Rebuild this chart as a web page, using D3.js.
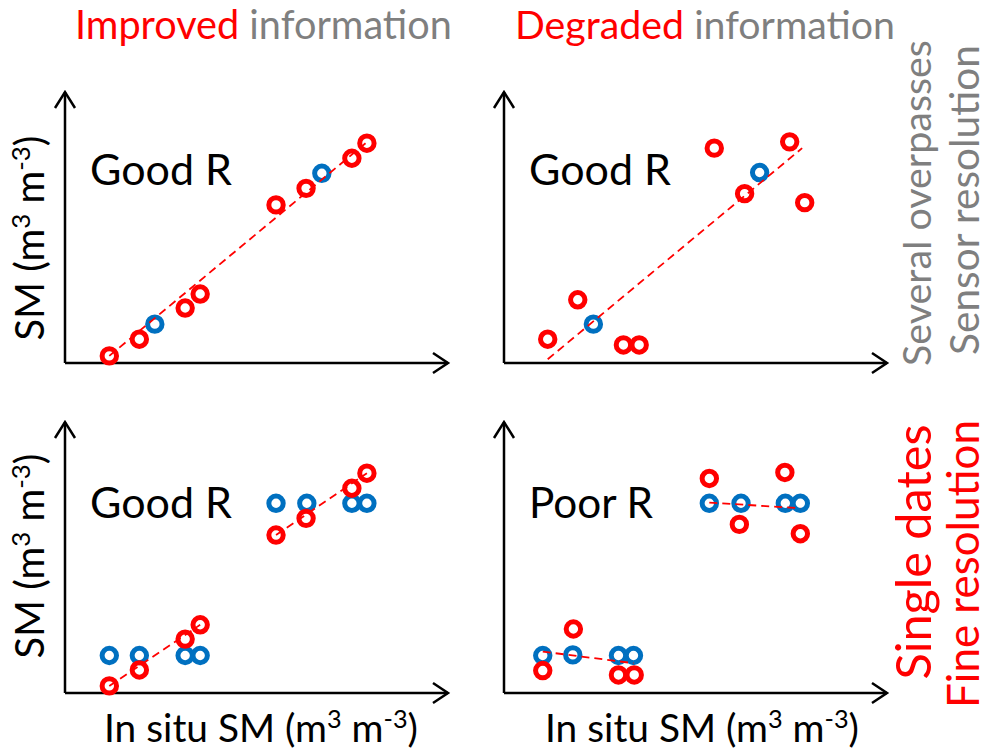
<!DOCTYPE html>
<html>
<head>
<meta charset="utf-8">
<script src="https://cdn.jsdelivr.net/npm/d3@7"></script>
<style>
  html, body { margin: 0; padding: 0; background: #fff; }
  svg { display: block; font-family: Lato, "Open Sans", sans-serif; }
</style>
</head>
<body>
<svg id="chart" width="990" height="752"></svg>
<script>
// ---------------- DATA ----------------
const columnTitles = [
  { strong: "Improved", rest: " information" },
  { strong: "Degraded", rest: " information" }
];
const rowLabels = [
  ["Several overpasses", "Sensor resolution"],
  ["Single dates", "Fine resolution"]
];
const panelRLabels = ["Good R", "Good R", "Good R", "Poor R"];
const xAxisLabel = ["In situ SM (m", "3", " m", "-3", ")"];
const yAxisLabel = ["SM (m", "3", " m", "-3", ")"];

// Top-left: improved information, several overpasses / sensor resolution
const improvedSensorRed  = [[2.95,0.47],[4.95,1.58],[8,3.65],[9,4.58],[14.05,10.5],[16.05,11.6],[19.1,13.6],[20.1,14.6]];
const improvedSensorBlue = [[5.98,2.58],[17.1,12.6]];
const improvedSensorFit  = [[[2.95,0.47],[20.1,14.67]]];

// Top-right: degraded information, several overpasses / sensor resolution
const degradedSensorRed  = [[2.91,1.58],[4.91,4.2],[7.95,1.2],[9,1.2],[14,14.27],[16.02,11.25],[19.02,14.69],[20.02,10.65]];
const degradedSensorBlue = [[5.95,2.58],[17.02,12.65]];
const degradedSensorFit  = [[[2.91,0.25],[19.85,14.27]]];

// Bottom-left: improved information, single dates / fine resolution
const improvedFineRed  = [[2.95,0.47],[4.95,1.53],[8,3.58],[9,4.53],[14.05,10.49],[16.05,11.6],[19.1,13.6],[20.1,14.6]];
const improvedFineBlue = [[2.95,2.49],[4.95,2.49],[8,2.49],[9,2.49],[14.05,12.6],[16.1,12.6],[19.1,12.6],[20.1,12.6]];
const improvedFineFit  = [[[2.95,0.47],[9,4.53]],[[14.05,10.49],[20.1,14.6]]];

// Bottom-right: degraded information, single dates / fine resolution
const degradedFineRed  = [[2.58,1.49],[4.62,4.25],[7.62,1.2],[8.67,1.2],[13.67,14.25],[15.67,11.2],[18.7,14.65],[19.73,10.58]];
const degradedFineBlue = [[2.58,2.49],[4.58,2.53],[7.62,2.49],[8.62,2.49],[13.67,12.6],[15.78,12.6],[18.73,12.6],[19.73,12.6]];
const degradedFineFit  = [[[2.58,2.75],[8.62,1.98]],[[13.67,12.65],[19.73,12.27]]];

const xDomain = [0, 25.5];
const yDomain = [0, 18];

// ---------------- STYLE / LAYOUT ----------------
const RED = "#FF0000", BLUE = "#0070C0", GRAY = "#7F7F7F", BLACK = "#000";
const svg = d3.select("#chart");

const panels = [
  { ox: 65,  oy: 363, red: improvedSensorRed, blue: improvedSensorBlue, fit: improvedSensorFit, label: panelRLabels[0] },
  { ox: 504, oy: 363, red: degradedSensorRed, blue: degradedSensorBlue, fit: degradedSensorFit, label: panelRLabels[1] },
  { ox: 65,  oy: 693, red: improvedFineRed,   blue: improvedFineBlue,   fit: improvedFineFit,   label: panelRLabels[2] },
  { ox: 504, oy: 693, red: degradedFineRed,   blue: degradedFineBlue,   fit: degradedFineFit,   label: panelRLabels[3] }
];
const PW = 383, PH = 271;

// fit a text element to a target width by adjusting font size
function fitWidth(sel, target) {
  const base = 40;
  sel.attr("font-size", base);
  const w = sel.node().getBBox().width;
  sel.attr("font-size", base * target / w);
}

function addSupText(g, parts, size) {
  const t = g.append("text").attr("font-size", size).attr("fill", BLACK);
  parts.forEach((p, i) => {
    const sp = t.append("tspan").text(p);
    if (i % 2 === 1) {
      sp.attr("font-size", "0.65em").attr("dy", "-0.55em");
    } else if (i > 0) {
      sp.attr("dy", (0.55 * 0.65) + "em");
    }
  });
  return t;
}

panels.forEach(p => {
  const x = d3.scaleLinear().domain(xDomain).range([p.ox, p.ox + PW]);
  const y = d3.scaleLinear().domain(yDomain).range([p.oy, p.oy - PH]);
  const g = svg.append("g");

  // axes with open arrow heads
  const x0 = x(xDomain[0]), x1 = x(xDomain[1]), y0 = y(yDomain[0]), y1 = y(yDomain[1]);
  g.append("path")
    .attr("d", `M${x0},${y0}L${x0},${y1}M${x0},${y0}L${x1},${y0}`)
    .attr("fill", "none").attr("stroke", BLACK).attr("stroke-width", 2.5);
  g.append("path")
    .attr("d", `M${x0-10},${y1+16}L${x0},${y1}L${x0+10},${y1+16}M${x1-15},${y0-10}L${x1},${y0}L${x1-15},${y0+10}`)
    .attr("fill", "none").attr("stroke", BLACK).attr("stroke-width", 2.5)
    .attr("stroke-linejoin", "miter");

  // R label
  const rl = g.append("text").text(p.label)
    .attr("x", p.ox + 25).attr("y", p.oy - (p.oy === 363 ? 178 : 175))
    .attr("fill", BLACK);
  fitWidth(rl, p.label === "Good R" ? 142 : 124);

  // points
  const ring = (data, color) => g.selectAll(null).data(data).enter().append("circle")
    .attr("cx", d => x(d[0])).attr("cy", d => y(d[1])).attr("r", 7.2)
    .attr("fill", "none").attr("stroke", color).attr("stroke-width", 5);
  ring(p.blue, BLUE);
  ring(p.red, RED);

  // fit lines
  const line = d3.line().x(d => x(d[0])).y(d => y(d[1]));
  g.selectAll(null).data(p.fit).enter().append("path")
    .attr("d", line).attr("fill", "none").attr("stroke", RED)
    .attr("stroke-width", 1.8).attr("stroke-dasharray", "8,5");
});

// column titles
const titleTargets = [{ x: 75, w: 377 }, { x: 515, w: 380 }];
columnTitles.forEach((c, i) => {
  const t = svg.append("text").attr("x", titleTargets[i].x).attr("y", 39);
  t.append("tspan").text(c.strong).attr("fill", RED);
  t.append("tspan").text(c.rest).attr("fill", GRAY);
  fitWidth(t, titleTargets[i].w);
});

// x-axis labels
[{ cx: 261 }, { cx: 702 }].forEach(o => {
  const g = svg.append("g");
  const t = addSupText(g, xAxisLabel, 40);
  fitWidth(t, 314);
  t.attr("text-anchor", "middle").attr("x", o.cx).attr("y", 742);
});

// y-axis labels
[{ cy: 238 }, { cy: 556 }].forEach(o => {
  const g = svg.append("g").attr("transform", `translate(44,${o.cy}) rotate(-90)`);
  const t = addSupText(g, yAxisLabel, 40);
  fitWidth(t, 205);
  t.attr("text-anchor", "middle").attr("x", 0).attr("y", 0);
});

// row labels (right side, rotated)
const rowSpecs = [
  { color: GRAY, lines: [{ cy: 203, bx: 931, w: 326 }, { cy: 200, bx: 979, w: 310 }] },
  { color: RED,  lines: [{ cy: 552, bx: 931, w: 255 }, { cy: 564, bx: 979, w: 288 }] }
];
rowLabels.forEach((lbls, r) => {
  lbls.forEach((txt, k) => {
    const s = rowSpecs[r].lines[k];
    const g = svg.append("g").attr("transform", `translate(${s.bx},${s.cy}) rotate(-90)`);
    const t = g.append("text").text(txt).attr("fill", rowSpecs[r].color);
    fitWidth(t, s.w);
    t.attr("text-anchor", "middle").attr("x", 0).attr("y", 0);
  });
});
</script>
</body>
</html>
